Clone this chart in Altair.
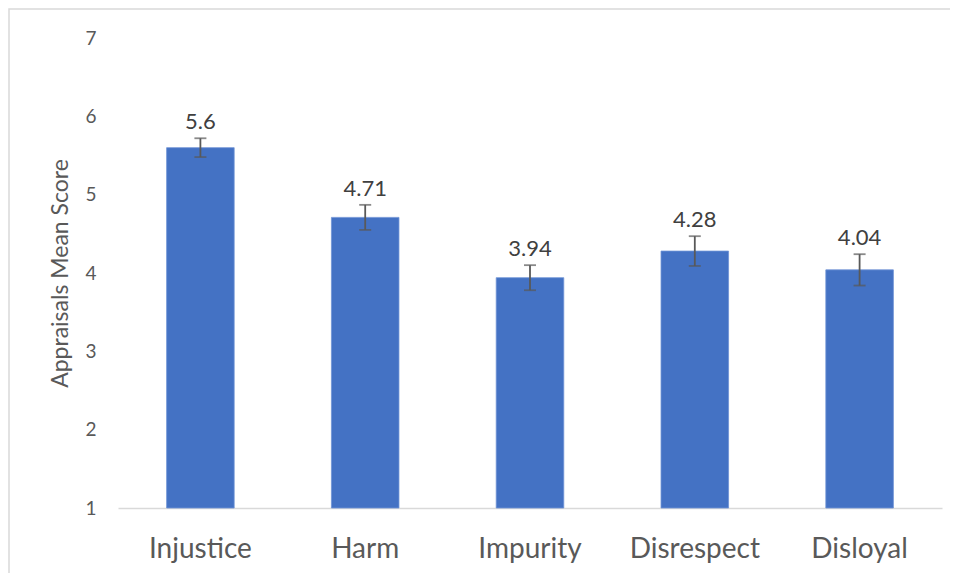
import altair as alt
import pandas as pd

categories = ["Injustice", "Harm", "Impurity", "Disrespect", "Disloyal"]
means = [5.6, 4.71, 3.94, 4.28, 4.04]
errors = [0.12, 0.16, 0.16, 0.19, 0.20]
labels = ["5.6", "4.71", "3.94", "4.28", "4.04"]

df = pd.DataFrame({
    "cat": categories,
    "mean": means,
    "lo": [m - e for m, e in zip(means, errors)],
    "hi": [m + e for m, e in zip(means, errors)],
    "label": labels,
})

FONT = "Lato"
GRAY = "#595959"

xaxis = alt.Axis(labelAngle=0, ticks=False, domainColor="#d9d9d9", domainWidth=1.5, labelPadding=27)
xscale = alt.Scale(paddingInner=0.59, paddingOuter=0.295)
yscale = alt.Scale(domain=[1, 7], nice=False, zero=False)
yaxis = alt.Axis(values=[1, 2, 3, 4, 5, 6, 7], format="d", grid=False, domain=False, ticks=False,
                 labelPadding=22, titlePadding=12)
YT = "Appraisals Mean Score"


def X():
    return alt.X("cat:N", sort=categories, title=None, scale=xscale, axis=xaxis)


def Y(field):
    return alt.Y(field, scale=yscale, title=YT, axis=yaxis)


base = alt.Chart(df)

bars = base.mark_bar(color="#4472C4", stroke="#6f93d6", strokeWidth=0.8).encode(
    x=X(), y=Y("mean:Q"), y2=alt.datum(1))

rules = base.mark_rule(color=GRAY, strokeWidth=1.8).encode(
    x=X(), y=Y("lo:Q"), y2="hi:Q")

caps_lo = base.mark_tick(color=GRAY, size=12, thickness=1.8).encode(x=X(), y=Y("lo:Q"))
caps_hi = base.mark_tick(color=GRAY, size=12, thickness=1.8).encode(x=X(), y=Y("hi:Q"))

text = base.mark_text(font=FONT, fontSize=22, color="#404040", baseline="bottom", dy=-4).encode(
    x=X(), y=Y("hi:Q"), text="label:N")

border = alt.Chart(pd.DataFrame({"a": [0]})).mark_rect(
    fill=None, stroke="#d9d9d9", strokeWidth=1.5).encode(
    x=alt.value(-109), x2=alt.value(900), y=alt.value(-29), y2=alt.value(600))

chart = alt.layer(border, bars, rules, caps_lo, caps_hi, text).properties(
    width=824, height=470,
    autosize=alt.AutoSizeParams(type="none"),
    padding={"left": 110, "top": 30, "right": 8, "bottom": 65},
).configure(
    background="white",
    view=alt.ViewConfig(stroke=None),
).configure_axisY(
    labelFontSize=19, labelColor=GRAY, labelFont=FONT,
    titleFontSize=23, titleFontWeight="normal", titleColor=GRAY, titleFont=FONT,
).configure_axisX(
    labelFontSize=28, labelColor=GRAY, labelFont=FONT,
)

chart.save("out.html", embed_options={"renderer": "svg", "actions": False})
